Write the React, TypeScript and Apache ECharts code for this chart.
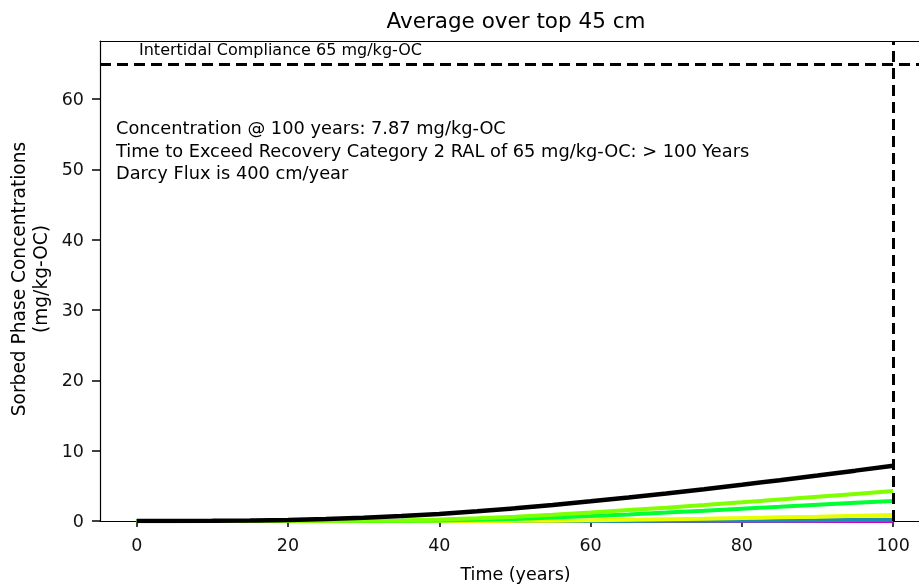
import React, { useEffect, useRef } from "react";
import * as echarts from "echarts";

const years = [0, 5, 10, 15, 20, 25, 30, 35, 40, 45, 50, 55, 60, 65, 70, 75, 80, 85, 90, 95, 100];
const blackSeries = [0, 0, 0.02, 0.06, 0.15, 0.28, 0.45, 0.7, 1.0, 1.38, 1.8, 2.28, 2.8, 3.33, 3.9, 4.52, 5.15, 5.8, 6.47, 7.16, 7.87];
const limeSeries = [0, 0, 0, 0, 0, 0, 0.02, 0.08, 0.2, 0.38, 0.6, 0.88, 1.2, 1.55, 1.9, 2.27, 2.65, 3.05, 3.45, 3.85, 4.25];
const greenSeries = [0, 0, 0, 0, 0, 0, 0, 0.03, 0.08, 0.18, 0.3, 0.48, 0.7, 0.94, 1.2, 1.47, 1.75, 2.02, 2.3, 2.58, 2.85];
const yellowSeries = [0, 0, 0, 0, 0, 0, 0, 0, 0, 0, 0.02, 0.05, 0.1, 0.17, 0.25, 0.33, 0.42, 0.52, 0.62, 0.73, 0.85];
const tealSeries = [0, 0, 0, 0, 0, 0, 0, 0, 0, 0, 0, 0, 0, 0.01, 0.02, 0.04, 0.06, 0.08, 0.1, 0.13, 0.16];
const magentaSeries = [0, 0, 0, 0, 0, 0, 0, 0, 0, 0, 0, 0, 0, 0, 0, 0, 0, 0, 0, 0, 0];
const xTicks = [0, 20, 40, 60, 80, 100];
const complianceLevel = 65;
const endYear = 100;
const titleText = "Average over top 45 cm";
const complianceText = "Intertidal Compliance 65 mg/kg-OC";
const noteLines = [
  "Concentration @ 100 years: 7.87 mg/kg-OC",
  "Time to Exceed Recovery Category 2 RAL of 65 mg/kg-OC: > 100 Years",
  "Darcy Flux is 400 cm/year",
];

const FONT = "'DejaVu Sans', 'Noto Sans', sans-serif";

export default function App() {
  const ref = useRef<HTMLDivElement>(null);
  useEffect(() => {
    if (!ref.current) return;
    const chart = echarts.init(ref.current, null, { renderer: "svg" });
    const mk = (name: string, vals: number[], color: string, extra: any = {}) => ({
      name,
      type: "line",
      data: years.map((y, i) => [y, vals[i]]),
      showSymbol: false,
      symbol: "none",
      smooth: false,
      lineStyle: { color, width: 4 },
      itemStyle: { color },
      ...extra,
    });
    const dashStyle = { color: "#000", width: 3, type: [11, 6] };
    chart.setOption({
      animation: false,
      textStyle: { fontFamily: FONT },
      grid: { left: 100, top: 41, width: 831, height: 480, containLabel: false, outerBoundsMode: "none" },
      xAxis: [
        {
          type: "value",
          min: -4.85,
          max: 105,
          position: "bottom",
          name: "Time (years)",
          nameLocation: "middle",
          nameGap: 44,
          nameTextStyle: { fontSize: 17.5, color: "#000", fontFamily: FONT },
          axisLine: { show: true, onZero: false, lineStyle: { color: "#000", width: 1.2 } },
          axisTick: { show: true, length: 6, customValues: xTicks, lineStyle: { color: "#000", width: 1.5 } },
          axisLabel: { customValues: xTicks, fontSize: 17.5, color: "#111", margin: 15, fontFamily: FONT },
          splitLine: { show: false },
        },
        {
          type: "value",
          min: -4.85,
          max: 105,
          position: "top",
          axisLine: { show: true, onZero: false, lineStyle: { color: "#000", width: 1.2 } },
          axisTick: { show: false },
          axisLabel: { show: false },
          splitLine: { show: false },
        },
      ],
      yAxis: {
        type: "value",
        min: 0,
        max: 68.25,
        interval: 10,
        axisLine: { show: true, onZero: false, lineStyle: { color: "#000", width: 1.2 } },
        axisTick: { show: true, length: 8, lineStyle: { color: "#000", width: 1.5 } },
        axisLabel: { fontSize: 17.5, color: "#111", margin: 16, fontFamily: FONT, showMaxLabel: false },
        splitLine: { show: false },
      },
      series: [
        mk("magenta", magentaSeries, "#cc00cc"),
        mk("teal", tealSeries, "#1f8fb0"),
        mk("yellow", yellowSeries, "#e8ff00"),
        mk("green", greenSeries, "#00ff33"),
        mk("lime", limeSeries, "#80ff00"),
        mk("black", blackSeries, "#000000", {
          lineStyle: { color: "#000", width: 4.5 },
          markLine: {
            silent: true,
            symbol: "none",
            label: { show: false },
            lineStyle: dashStyle,
            data: [{ yAxis: complianceLevel }, { xAxis: endYear }],
          },
        }),
      ],
      graphic: [
        {
          type: "text",
          x: 516,
          y: 20,
          style: { text: titleText, fill: "#000", font: `21.5px ${FONT}`, textAlign: "center", textVerticalAlign: "middle" },
        },
        {
          type: "text",
          x: 139,
          y: 49,
          style: { text: complianceText, fill: "#000", font: `16px ${FONT}`, textAlign: "left", textVerticalAlign: "middle" },
        },
        {
          type: "text",
          x: 116,
          y: 150,
          style: {
            text: noteLines.join("\n"),
            fill: "#000",
            font: `17.8px ${FONT}`,
            textAlign: "left",
            textVerticalAlign: "middle",
            lineHeight: 22.5,
          },
        },
        {
          type: "text",
          x: 29,
          y: 279,
          rotation: Math.PI / 2,
          style: {
            text: "Sorbed Phase Concentrations\n(mg/kg-OC)",
            fill: "#000",
            font: `18.6px ${FONT}`,
            textAlign: "center",
            textVerticalAlign: "middle",
            lineHeight: 22,
          },
        },
      ],
    });
    return () => chart.dispose();
  }, []);
  return <div ref={ref} style={{ position: "fixed", left: 0, top: 0, width: 919, height: 586 }} />;
}
